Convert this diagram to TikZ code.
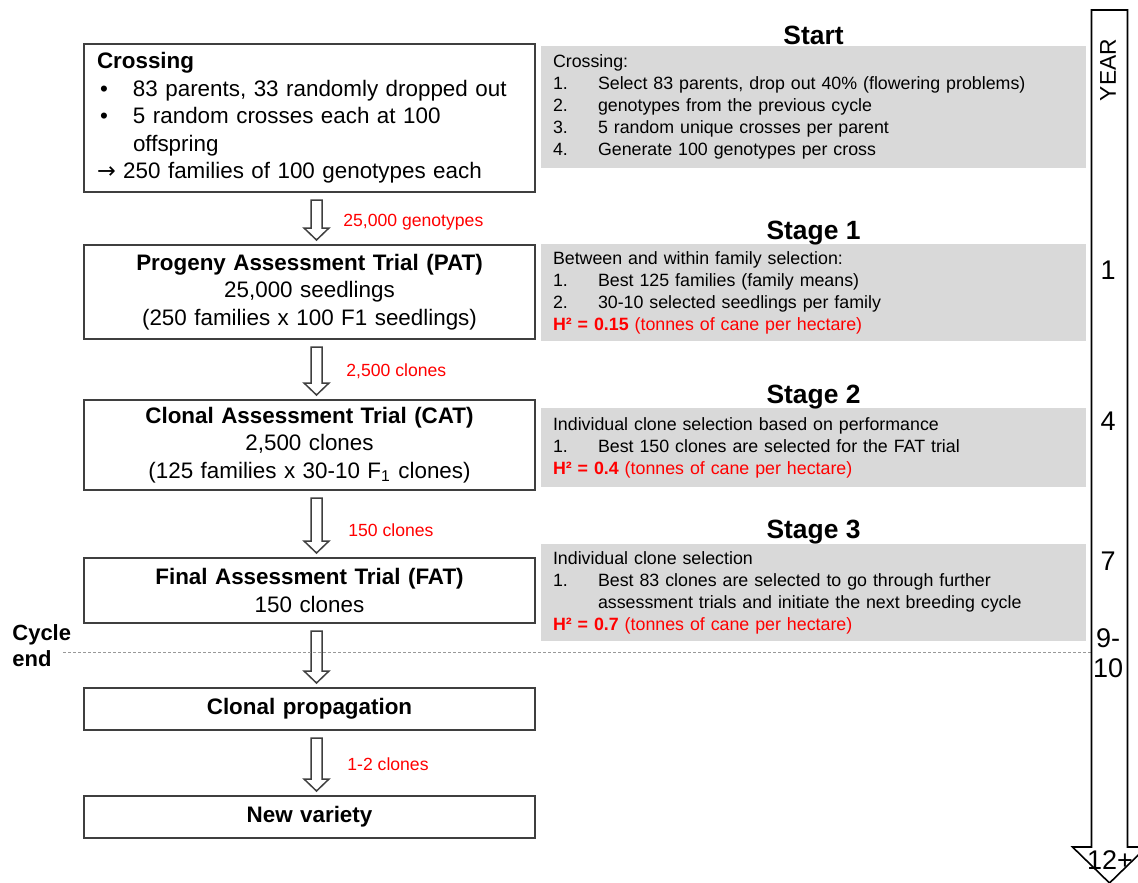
\documentclass[tikz,border=0pt]{standalone}
\usepackage{fontspec}
\setmainfont{Liberation Sans}
\newfontfamily\arrowfont{DejaVu Sans}
\usetikzlibrary{arrows.meta,calc}
\definecolor{boxline}{HTML}{3F3F3F}
\definecolor{notefill}{HTML}{D9D9D9}
\definecolor{labred}{HTML}{FF0000}
\tikzset{
  >=Latex,
  trial/.style     = {draw=boxline, line width=1pt, inner xsep=6.5pt, inner ysep=0pt, text width=212.5pt, align=center, font=\fontsize{11.2}{13.75}\selectfont},
  note/.style      = {fill=notefill, inner xsep=6pt, inner ysep=0pt, text width=260.5pt, align=left, font=\fontsize{8.9}{11}\selectfont},
  stagehead/.style = {anchor=base, inner sep=0pt, font=\fontsize{13.2}{15}\selectfont\bfseries},
  redlab/.style    = {anchor=base west, inner sep=0pt, text=labred, font=\fontsize{8.8}{10}\selectfont},
  yearlab/.style   = {inner sep=0pt, align=center, font=\fontsize{13.5}{15}\selectfont},
  blockarr/.style  = {draw=boxline, line width=0.75pt, line join=miter},
  yeararr/.style   = {draw=black, line width=0.8pt, line join=miter},
  cycleline/.style = {draw=gray!80, line width=0.5pt, dash pattern=on 1.5pt off 1pt}
}
\newcommand{\bul}{\makebox[18pt][l]{\hspace{1.5pt}\textbullet}}
\newcommand{\itm}[1]{\makebox[22.5pt][l]{#1}}
\newcommand{\blockarrow}[2]{% hollow arrow from one trial box down to the next
  \draw[blockarr] let \p1 = ($(#1.south)+(7,7)$), \p2 = ($(#2.north)+(7,-4)$) in
    (\x1-2.75pt,\y1) -- (\x1+2.75pt,\y1) -- (\x1+2.75pt,\y2+6pt) -- (\x1+6.25pt,\y2+6pt)
    -- (\x1,\y2) -- (\x1-6.25pt,\y2+6pt) -- (\x1-2.75pt,\y2+6pt) -- cycle;}

\begin{document}
\begin{tikzpicture}[x=0.5pt, y=-0.5pt]  % one unit = one pixel of the 1138 x 882 layout, y downwards
  \useasboundingbox (0,0) rectangle (1138,882);
  \clip (0,0) rectangle (1138,882);

  %  --  Left column: crossing and the trials, top to bottom
  \node[trial, align=left, minimum height=74pt] (cross) at (309.5,118) {%
    {\bfseries Crossing}\\
    \bul 83 parents, 33 randomly dropped out\\
    \bul 5 random crosses each at 100\\
    \hspace*{18pt}offspring\\
    {\arrowfont →} 250 families of 100 genotypes each};
  \node[trial, minimum height=47pt] (pat) at (309.5,292) {%
    {\bfseries Progeny Assessment Trial (PAT)}\\
    25,000 seedlings\\
    (250 families x 100 F1 seedlings)};
  \node[trial, minimum height=45pt] (cat) at (309.5,445) {%
    {\bfseries Clonal Assessment Trial (CAT)}\\
    2,500 clones\\
    (125 families x 30-10 F\textsubscript{1} clones)};
  \node[trial, minimum height=32.5pt] (fat) at (309.5,590.5) {%
    {\bfseries Final Assessment Trial (FAT)}\\
    150 clones};
  \node[trial, minimum height=21pt] (prop) at (309.5,709) {\bfseries Clonal propagation};
  \node[trial, minimum height=21pt] (newv) at (309.5,817) {\bfseries New variety};

  %  --  Hollow arrows between consecutive boxes
  \foreach \a/\b in {cross/pat,pat/cat,cat/fat,fat/prop,prop/newv}{
    \blockarrow{\a}{\b}
  }

  %  --  Numbers passed on (red, right of the arrows)
  \node[redlab] (n1) at (343,226) {25,000 genotypes};
  \node[redlab] (n2) at (346,376) {2,500 clones};
  \node[redlab] (n3) at (348,536) {150 clones};
  \node[redlab] (n4) at (347,770) {1-2 clones};

  %  --  Right column: grey notes for each stage
  \node[note, minimum height=61pt] (start) at (813.5,107) {%
    Crossing:\\
    \itm{1.}Select 83 parents, drop out 40\% (flowering problems)\\
    \itm{2.}genotypes from the previous cycle\\
    \itm{3.}5 random unique crosses per parent\\
    \itm{4.}Generate 100 genotypes per cross};
  \node[note, minimum height=48.5pt] (s1) at (813.5,292.5) {%
    Between and within family selection:\\
    \itm{1.}Best 125 families (family means)\\
    \itm{2.}30-10 selected seedlings per family\\
    \textcolor{labred}{\textbf{H² = 0.15} (tonnes of cane per hectare)}};
  \node[note, minimum height=39.5pt] (s2) at (813.5,447.5) {%
    Individual clone selection based on performance\\
    \itm{1.}Best 150 clones are selected for the FAT trial\\
    \textcolor{labred}{\textbf{H² = 0.4} (tonnes of cane per hectare)}};
  \node[note, minimum height=48.5pt] (s3) at (813.5,592.5) {%
    Individual clone selection\\
    \itm{1.}Best 83 clones are selected to go through further\\
    \hspace*{22.5pt}assessment trials and initiate the next breeding cycle\\
    \textcolor{labred}{\textbf{H² = 0.7} (tonnes of cane per hectare)}};

  \foreach \s/\t/\gap in {start/Start/-1,s1/Stage 1/-4,s2/Stage 2/-4,s3/Stage 3/-5}
    \node[stagehead] (h\s) at ($(\s.north)+(0,\gap)$) {\t};

  %  --  End of the breeding cycle
  \draw[cycleline] (63,652) -- (1091,652);
  \node[anchor=west, inner sep=0pt, align=left, font=\fontsize{11}{13}\selectfont\bfseries] (cycend) at (12,646) {Cycle\\end};

  %  --  Time axis on the right
  \draw[yeararr] (1091.5,10) -- (1127.5,10) -- (1127.5,847) -- (1146.5,847) -- (1109.5,883)
    -- (1072.5,847) -- (1091.5,847) -- cycle;
  \node[yearlab, rotate=90, font=\fontsize{11.4}{13}\selectfont] (year) at (1108,70) {YEAR};
  \foreach \yr/\yy in {1/270,4/421,7/561}
    \node[yearlab] (y\yr) at (1108,\yy) {\yr};
  \node[yearlab] (y9) at (1108,653) {9-\\10};
  \node[yearlab] (y12) at (1110,860) {12+};
\end{tikzpicture}
\end{document}
